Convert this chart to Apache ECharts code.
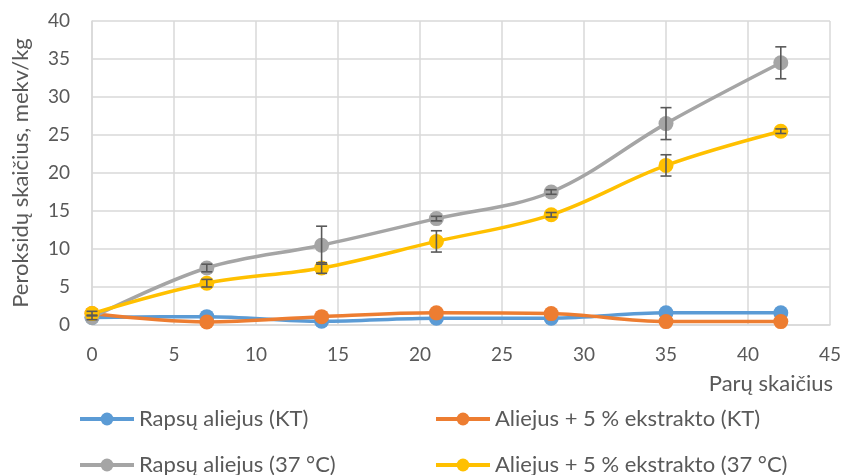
<!DOCTYPE html>
<html>
<head>
<meta charset="utf-8">
<script src="https://cdn.jsdelivr.net/npm/echarts@6/dist/echarts.min.js"></script>
<style>
  html, body { margin: 0; padding: 0; background: #fff; }
  #chart { width: 845px; height: 475px; }
</style>
</head>
<body>
<div id="chart"></div>
<script>
// Storage days
const days = [0, 7, 14, 21, 28, 35, 42];

// Peroxide value, meq/kg
const rapsKT   = [1.0, 1.1, 0.5, 0.9, 0.9, 1.6, 1.6];
const extKT    = [1.5, 0.4, 1.1, 1.6, 1.5, 0.45, 0.45];
const raps37   = [1.0, 7.5, 10.5, 14.0, 17.5, 26.5, 34.5];
const ext37    = [1.5, 5.5, 7.5, 11.0, 14.5, 21.0, 25.5];

// Standard deviations (error bars)
const raps37Err = [0.3, 0.5, 2.5, 0.3, 0.3, 2.1, 2.1];
const ext37Err  = [0.3, 0.5, 0.7, 1.4, 0.3, 1.4, 0.3];

const names = [
  'Rapsų aliejus (KT)',
  'Aliejus + 5 % ekstrakto (KT)',
  'Rapsų aliejus (37 °C)',
  'Aliejus + 5 % ekstrakto (37 °C)'
];
const colors = ['#5b9bd5', '#ed7d31', '#a5a5a5', '#ffc000'];
const FONT = 'Lato';
const TXT = '#595959';
const GRID = '#d9d9d9';

const pairs = (ys) => days.map((d, i) => [d, ys[i]]);
const errData = (ys, es) => days.map((d, i) => [d, ys[i] - es[i], ys[i] + es[i]]);

function lineSeries(name, ys, color) {
  return {
    name, type: 'line', data: pairs(ys),
    smooth: 0.35,
    symbol: 'circle', symbolSize: 15,
    itemStyle: { color },
    lineStyle: { color, width: 3.5 },
    emphasis: { disabled: true }
  };
}

function errSeries(ys, es) {
  return {
    type: 'custom',
    data: errData(ys, es),
    z: 5,
    silent: true,
    renderItem(params, api) {
      const x = api.value(0);
      const top = api.coord([x, api.value(2)]);
      const bot = api.coord([x, api.value(1)]);
      const hw = 5.5;
      const style = { stroke: '#595959', lineWidth: 1.6 };
      return {
        type: 'group',
        children: [
          { type: 'line', shape: { x1: top[0], y1: top[1], x2: bot[0], y2: bot[1] }, style },
          { type: 'line', shape: { x1: top[0] - hw, y1: top[1], x2: top[0] + hw, y2: top[1] }, style },
          { type: 'line', shape: { x1: bot[0] - hw, y1: bot[1], x2: bot[0] + hw, y2: bot[1] }, style }
        ]
      };
    }
  };
}

function legendAt(name, left, top) {
  return {
    data: [name], left, top,
    padding: 0,
    itemWidth: 54, itemHeight: 16,
    itemGap: 0,
    selectedMode: false,
    lineStyle: { width: 4 },
    textStyle: { fontFamily: FONT, fontSize: 22, color: TXT }
  };
}

const chart = echarts.init(document.getElementById('chart'), null, { renderer: 'canvas' });
chart.setOption({
  animation: false,
  backgroundColor: '#fff',
  grid: { left: 92, right: 15, top: 21, bottom: 150, outerBoundsMode: 'none' },
  legend: [
    legendAt(names[0], 78, 408),
    legendAt(names[1], 434, 408),
    legendAt(names[2], 78, 454),
    legendAt(names[3], 434, 454)
  ],
  xAxis: {
    type: 'value', min: 0, max: 45, interval: 5,
    name: 'Parų skaičius',
    nameLocation: 'end', nameGap: 3,
    nameTextStyle: { fontFamily: FONT, fontSize: 22, color: TXT, align: 'right', verticalAlign: 'top', padding: [48, 0, 0, 0] },
    axisLine: { lineStyle: { color: GRID, width: 1.5 } },
    axisTick: { show: false },
    axisLabel: { fontFamily: FONT, fontSize: 19, color: TXT, margin: 20 },
    splitLine: { show: true, lineStyle: { color: GRID, width: 1.5 } }
  },
  yAxis: {
    type: 'value', min: 0, max: 40, interval: 5,
    name: 'Peroksidų skaičius, mekv/kg',
    nameLocation: 'middle', nameGap: 60, nameRotate: 90,
    nameTextStyle: { fontFamily: FONT, fontSize: 22, color: TXT },
    axisLine: { show: true, lineStyle: { color: GRID, width: 1.5 } },
    axisTick: { show: false },
    axisLabel: { fontFamily: FONT, fontSize: 19, color: TXT, margin: 22 },
    splitLine: { show: true, lineStyle: { color: GRID, width: 1.5 } }
  },
  series: [
    lineSeries(names[0], rapsKT, colors[0]),
    lineSeries(names[1], extKT, colors[1]),
    lineSeries(names[2], raps37, colors[2]),
    errSeries(raps37, raps37Err),
    lineSeries(names[3], ext37, colors[3]),
    errSeries(ext37, ext37Err)
  ]
});
</script>
</body>
</html>
